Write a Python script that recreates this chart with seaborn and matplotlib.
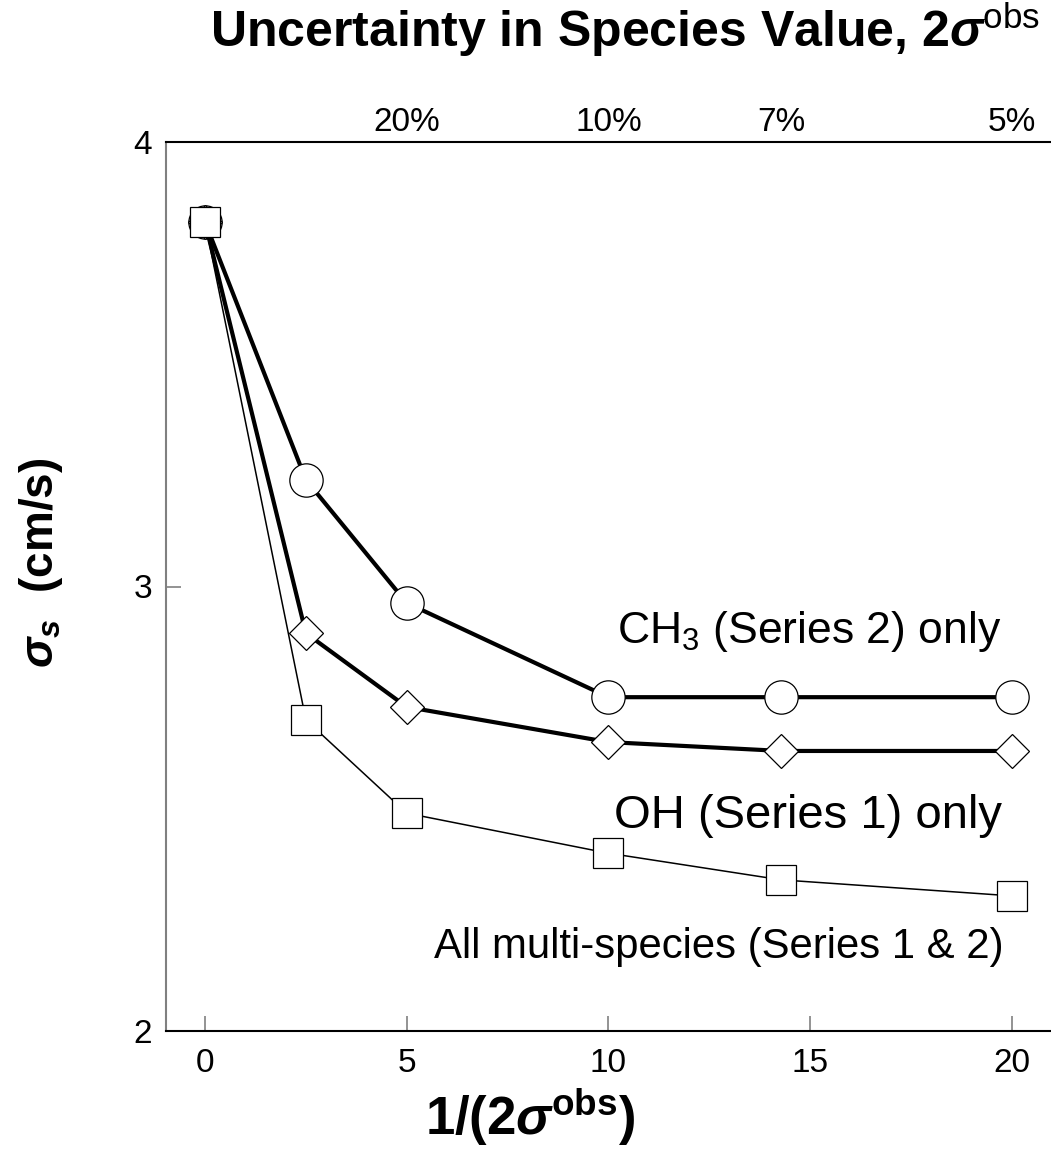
import matplotlib
matplotlib.use('Agg')
import matplotlib.pyplot as plt
import seaborn as sns
import pandas as pd

# ---- data ----
x_vals = [0, 2.5, 5, 10, 14.286, 20]
ch3_only = [3.82, 3.24, 2.963, 2.751, 2.751, 2.751]
oh_only = [3.82, 2.895, 2.729, 2.650, 2.630, 2.630]
multi = [3.82, 2.700, 2.490, 2.400, 2.340, 2.304]
x_ticks = [0, 5, 10, 15, 20]
y_ticks = [2, 3, 4]
top_ticks = [5, 10, 14.286, 20]
top_labels = ['20%', '10%', '7%', '5%']

sns.set_theme(style='ticks')
plt.rcParams['font.family'] = ['Liberation Sans', 'DejaVu Sans']
plt.rcParams['mathtext.fontset'] = 'custom'
plt.rcParams['mathtext.rm'] = 'Liberation Sans'
plt.rcParams['mathtext.it'] = 'Liberation Sans:italic'
plt.rcParams['mathtext.bf'] = 'Liberation Sans:bold'
plt.rcParams['mathtext.bfit'] = 'Liberation Sans:italic:bold'
plt.rcParams['text.color'] = 'black'
plt.rcParams['axes.labelcolor'] = 'black'
plt.rcParams['xtick.labelcolor'] = 'black'
plt.rcParams['ytick.labelcolor'] = 'black'

W, H = 1051, 1167
fig = plt.figure(figsize=(W / 100, H / 100), dpi=100)
ax = fig.add_axes([166 / W, 1 - 1031 / H, (W - 166) / W, (1031 - 142) / H])

df_ch3 = pd.DataFrame({'x': x_vals, 'y': ch3_only})
df_oh = pd.DataFrame({'x': x_vals, 'y': oh_only})
df_multi = pd.DataFrame({'x': x_vals, 'y': multi})

sns.lineplot(data=df_ch3, x='x', y='y', ax=ax, color='black', linewidth=3.0,
             marker='o', markersize=24, markerfacecolor='white',
             markeredgecolor='black', markeredgewidth=0.9,
             estimator=None, sort=False, zorder=3)
sns.lineplot(data=df_oh, x='x', y='y', ax=ax, color='black', linewidth=3.0,
             marker='D', markersize=17.5, markerfacecolor='white',
             markeredgecolor='black', markeredgewidth=0.9,
             estimator=None, sort=False, zorder=4)
sns.lineplot(data=df_multi, x='x', y='y', ax=ax, color='black', linewidth=1.1,
             marker='s', markersize=21.5, markerfacecolor='white',
             markeredgecolor='black', markeredgewidth=0.9,
             estimator=None, sort=False, zorder=5)

ax.set_xlim(-0.967, 20.97)
ax.set_ylim(2, 4)
ax.set_xticks(x_ticks)
ax.set_yticks(y_ticks)
ax.tick_params(axis='both', direction='in', length=11, width=1.2,
               color='#808080', labelsize=24, labelcolor='black')
ax.tick_params(axis='x', pad=12)
ax.tick_params(axis='y', pad=10)

ax.spines['right'].set_visible(False)
ax.spines['top'].set_visible(False)
ax.spines['left'].set_color('#808080')
ax.spines['left'].set_linewidth(1.5)
ax.spines['bottom'].set_color('black')
ax.spines['bottom'].set_linewidth(1.5)

ax.set_xlabel('1/(2$\\mathbfit{\\sigma}^{\\mathbf{obs}}$)', fontsize=38,
              fontweight='bold')
ax.xaxis.set_label_coords(0.411, -0.062)
ax.set_ylabel('$\\mathbfit{\\sigma_s}$  (cm/s)', fontsize=33, fontweight='bold')
ax.yaxis.set_label_coords(-0.114, 0.527)

ax2 = ax.twiny()
ax2.set_xlim(ax.get_xlim())
ax2.set_xticks(top_ticks, top_labels)
ax2.tick_params(axis='x', length=0, labelsize=24, pad=3, labelcolor='black')
for s in ['left', 'right', 'bottom']:
    ax2.spines[s].set_visible(False)
ax2.spines['top'].set_color('black')
ax2.spines['top'].set_linewidth(1.5)

ax.text(19.75, 2.873, 'CH$_3$ (Series 2) only', ha='right', va='baseline',
        fontsize=32)
ax.text(19.75, 2.457, 'OH (Series 1) only', ha='right', va='baseline',
        fontsize=34)
ax.text(19.8, 2.164, 'All multi-species (Series 1 & 2)', ha='right',
        va='baseline', fontsize=30.2)

fig.text(625 / W, 1 - 30 / H,
         'Uncertainty in Species Value, 2$\\mathbfit{\\sigma}^{\\mathrm{obs}}$',
         ha='center', va='center', fontsize=36, fontweight='bold')

fig.savefig('out.png', dpi=100)
